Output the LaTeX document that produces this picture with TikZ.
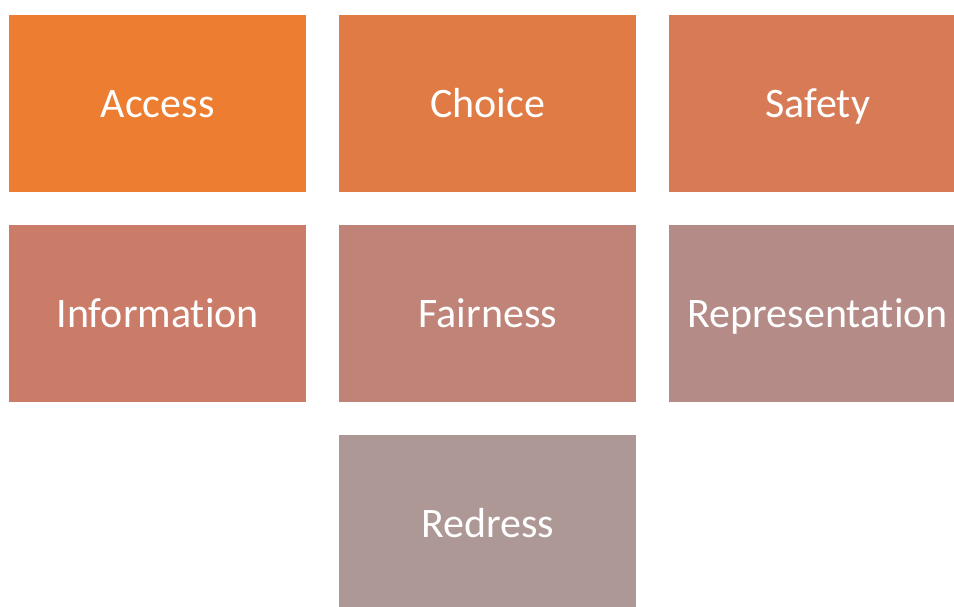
\documentclass[tikz,border=0pt]{standalone}
\usepackage{fontspec}
\setmainfont{Carlito}[Ligatures=NoCommon]
\definecolor{cAccess}{HTML}{ED7D31}
\definecolor{cChoice}{HTML}{E07B45}
\definecolor{cSafety}{HTML}{D67B55}
\definecolor{cInfo}{HTML}{CB7C68}
\definecolor{cFair}{HTML}{BF8377}
\definecolor{cRepr}{HTML}{B48B87}
\definecolor{cRedress}{HTML}{AE9896}
\begin{document}
\begin{tikzpicture}[x=1pt,y=-1pt,
  tile/.style={draw=none,minimum width=297pt,minimum height=177pt,inner sep=0pt,
    text height=27pt,text depth=0pt,
    text=white,font=\fontsize{42}{48}\selectfont,anchor=north west}]
\useasboundingbox (0,0) rectangle (954,606);
\node[tile,fill=cAccess] (access) at (9,15) {Access};
\node[tile,fill=cChoice] (choice) at (339,15) {Choice};
\node[tile,fill=cSafety] (safety) at (669,15) {Safety};
\node[tile,fill=cInfo] (info) at (9,225) {Information};
\node[tile,fill=cFair] (fair) at (339,225) {Fairness};
\node[tile,fill=cRepr] (repr) at (669,225) {Representation};
\node[tile,fill=cRedress] (redress) at (339,435) {Redress};
\end{tikzpicture}
\end{document}
